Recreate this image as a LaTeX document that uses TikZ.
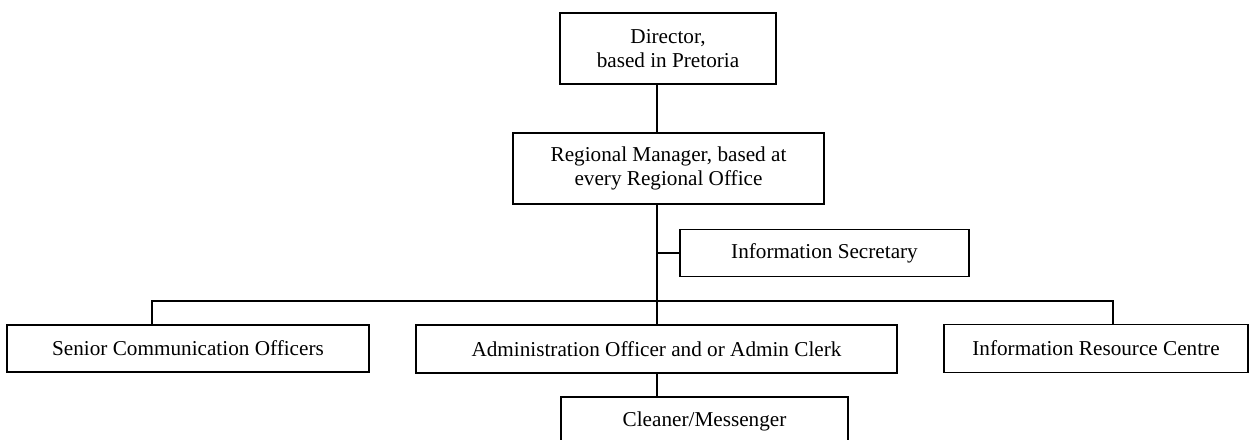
\documentclass[tikz,border=0pt]{standalone}
\usepackage{fontspec}
\setmainfont{Liberation Serif}
\begin{document}
\begin{tikzpicture}[x=1pt,y=-1pt,
  box/.style={draw,line width=1.5pt,rectangle,inner sep=0pt,align=center,
    font=\fontsize{21.2}{23.5}\selectfont},
  conn/.style={line width=1.5pt}]
\useasboundingbox (0,0) rectangle (1249,439);
\clip (0,0) rectangle (1249,439);
\node[box,minimum width=216pt,minimum height=71pt] (dir) at (668,48.5) {Director,\\based in Pretoria};
\node[box,minimum width=311pt,minimum height=71pt] (reg) at (668.5,168.5) {Regional Manager, based at\\every Regional Office};
\node[box,minimum width=289pt,minimum height=47pt] (sec) at (824.5,253) {Information Secretary};
\node[box,minimum width=362pt,minimum height=47pt] (sco) at (188,348.5) {Senior Communication Officers};
\node[box,minimum width=481pt,minimum height=48pt] (adm) at (656.5,349) {Administration Officer and or Admin Clerk};
\node[box,minimum width=304pt,minimum height=48pt] (irc) at (1096,348.5) {Information Resource Centre};
\node[box,minimum width=287pt,minimum height=48pt] (cln) at (704.5,421) {Cleaner/Messenger};
\coordinate (trunk) at (657,0);
\coordinate (bar) at (0,301);
\coordinate (lft) at (152,0);
\coordinate (rgt) at (1113,0);
\draw[conn] (dir.south -| trunk) -- (reg.north -| trunk);
\draw[conn] (reg.south -| trunk) -- (adm.north -| trunk);
\draw[conn] (sec.west -| trunk) -- (sec.west);
\draw[conn] (sco.north -| lft) -- (bar -| lft) -- (bar -| rgt) -- (irc.north -| rgt);
\draw[conn] (adm.south -| trunk) -- (cln.north -| trunk);
\end{tikzpicture}
\end{document}
